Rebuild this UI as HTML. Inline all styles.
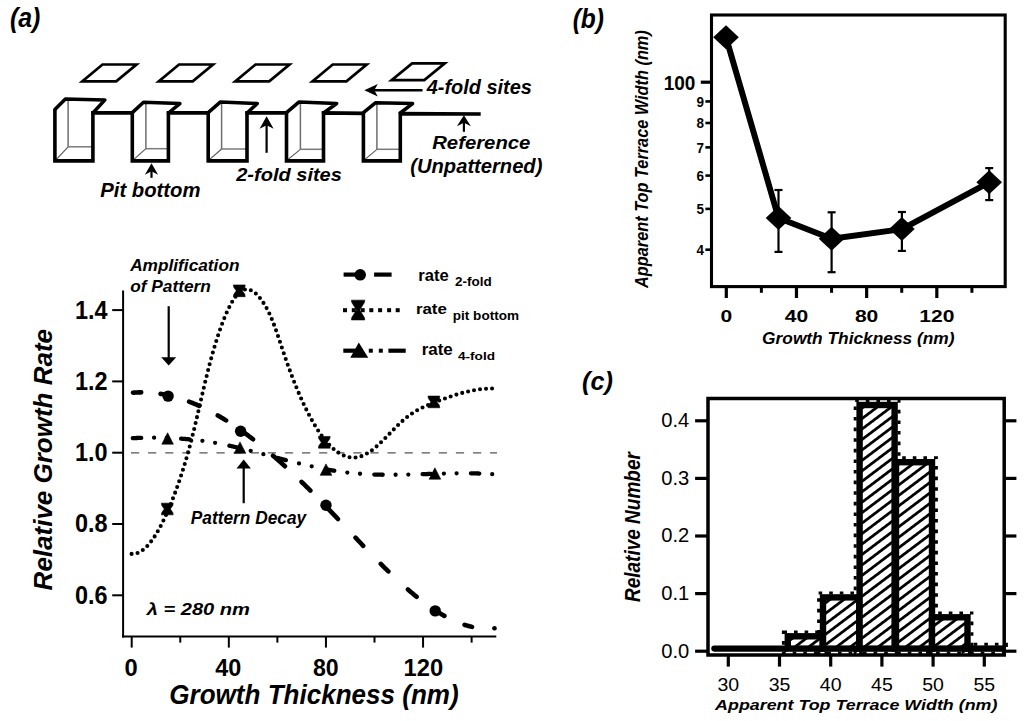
<!DOCTYPE html><html><head><meta charset="utf-8"><style>html,body{margin:0;padding:0;background:#fff;}svg{display:block;font-family:"Liberation Sans",sans-serif;}</style></head><body>
<svg width="1024" height="721" viewBox="0 0 1024 721">
<rect width="1024" height="721" fill="#fff"/>
<defs><pattern id="hatch" width="20" height="8.35" patternUnits="userSpaceOnUse" patternTransform="rotate(-37)"><rect x="0" y="0" width="20" height="2.75" fill="#000"/></pattern></defs>
<g id="schem">
<path d="M82.20,81.40 L116.20,81.40 L136.50,64.50 L102.50,64.50 Z" stroke="#000" stroke-width="2.7" fill="none" stroke-linejoin="miter"/>
<path d="M158.70,81.40 L192.70,81.40 L213.00,64.50 L179.00,64.50 Z" stroke="#000" stroke-width="2.7" fill="none" stroke-linejoin="miter"/>
<path d="M235.20,81.40 L269.20,81.40 L289.50,64.50 L255.50,64.50 Z" stroke="#000" stroke-width="2.7" fill="none" stroke-linejoin="miter"/>
<path d="M312.40,81.40 L346.40,81.40 L366.70,64.50 L332.70,64.50 Z" stroke="#000" stroke-width="2.7" fill="none" stroke-linejoin="miter"/>
<path d="M391.60,80.10 L424.30,80.10 L444.80,63.40 L412.10,63.40 Z" stroke="#000" stroke-width="2.7" fill="none" stroke-linejoin="miter"/>
<line x1="68.10" y1="99.90" x2="68.10" y2="146.80" stroke="#6e6e6e" stroke-width="1.5"/>
<line x1="68.10" y1="146.80" x2="92.90" y2="146.80" stroke="#7a7a7a" stroke-width="1.5"/>
<line x1="68.10" y1="146.80" x2="55.90" y2="159.90" stroke="#555" stroke-width="1.1"/>
<line x1="145.90" y1="103.30" x2="145.90" y2="148.70" stroke="#6e6e6e" stroke-width="1.5"/>
<line x1="145.90" y1="148.70" x2="168.40" y2="148.70" stroke="#7a7a7a" stroke-width="1.5"/>
<line x1="145.90" y1="148.70" x2="133.30" y2="159.90" stroke="#555" stroke-width="1.1"/>
<line x1="221.60" y1="102.90" x2="221.60" y2="149.00" stroke="#6e6e6e" stroke-width="1.5"/>
<line x1="221.60" y1="149.00" x2="247.00" y2="149.00" stroke="#7a7a7a" stroke-width="1.5"/>
<line x1="221.60" y1="149.00" x2="209.20" y2="159.90" stroke="#555" stroke-width="1.1"/>
<line x1="300.40" y1="102.90" x2="300.40" y2="149.30" stroke="#6e6e6e" stroke-width="1.5"/>
<line x1="300.40" y1="149.30" x2="323.50" y2="149.30" stroke="#7a7a7a" stroke-width="1.5"/>
<line x1="300.40" y1="149.30" x2="287.50" y2="159.90" stroke="#555" stroke-width="1.1"/>
<line x1="376.90" y1="103.80" x2="376.90" y2="149.30" stroke="#6e6e6e" stroke-width="1.5"/>
<line x1="376.90" y1="149.30" x2="400.30" y2="149.30" stroke="#7a7a7a" stroke-width="1.5"/>
<line x1="376.90" y1="149.30" x2="364.40" y2="159.90" stroke="#555" stroke-width="1.1"/>
<path d="M54.90,109.60 L54.90,160.90 L92.90,160.90 L92.90,112.90 L132.30,112.70 L132.30,160.90 L168.40,160.90 L168.40,112.90 L208.20,112.70 L208.20,160.90 L247.00,160.90 L247.00,112.90 L286.50,112.70 L286.50,160.90 L323.50,160.90 L323.50,112.90 L363.40,113.40 L363.40,160.90 L400.30,160.90 L400.30,113.60 L480.70,114.00" stroke="#000" stroke-width="3.6" fill="none" stroke-linejoin="miter" stroke-linecap="butt"/>
<path d="M54.90,109.60 L65.40,98.90 L104.90,99.90 L92.90,113.00" stroke="#000" stroke-width="3.5" fill="none" stroke-linejoin="round" stroke-linecap="round"/>
<path d="M132.30,112.60 L143.50,102.30 L179.90,103.60 L168.40,113.00" stroke="#000" stroke-width="3.5" fill="none" stroke-linejoin="round" stroke-linecap="round"/>
<path d="M208.20,112.60 L220.50,101.90 L257.30,103.50 L247.00,113.00" stroke="#000" stroke-width="3.5" fill="none" stroke-linejoin="round" stroke-linecap="round"/>
<path d="M286.50,112.60 L299.10,101.90 L336.70,103.50 L323.50,113.00" stroke="#000" stroke-width="3.5" fill="none" stroke-linejoin="round" stroke-linecap="round"/>
<path d="M363.40,112.60 L375.40,102.80 L412.60,103.60 L400.30,113.00" stroke="#000" stroke-width="3.5" fill="none" stroke-linejoin="round" stroke-linecap="round"/>
<line x1="151.50" y1="177.80" x2="151.50" y2="167.30" stroke="#000" stroke-width="2.2"/>
<path d="M151.50,163.30 L144.90,174.80 L151.50,171.30 L158.10,174.80 Z" stroke="#000" stroke-width="0" fill="#000"/>
<line x1="266.60" y1="152.80" x2="266.60" y2="120.20" stroke="#000" stroke-width="2.2"/>
<path d="M266.60,116.20 L259.60,128.70 L266.60,125.20 L273.60,128.70 Z" stroke="#000" stroke-width="0" fill="#000"/>
<line x1="463.90" y1="131.80" x2="463.90" y2="119.30" stroke="#000" stroke-width="2.2"/>
<path d="M463.90,115.30 L456.90,126.30 L463.90,122.80 L470.90,126.30 Z" stroke="#000" stroke-width="0" fill="#000"/>
<line x1="422.50" y1="90.20" x2="369.00" y2="90.20" stroke="#000" stroke-width="2.4"/>
<path d="M364.30,90.20 L377.80,83.90 L374.30,90.20 L377.80,96.50 Z" stroke="#000" stroke-width="0" fill="#000"/>
</g>
<text x="10.00" y="27.05" font-size="27.65" font-weight="bold" font-style="italic" textLength="30.40" lengthAdjust="spacingAndGlyphs" fill="#000">(a)</text>
<text x="426.74" y="94.30" font-size="19.31" font-weight="bold" font-style="italic" textLength="105.16" lengthAdjust="spacingAndGlyphs" fill="#000">4-fold sites</text>
<text x="432.20" y="149.20" font-size="18.21" font-weight="bold" font-style="italic" textLength="98.20" lengthAdjust="spacingAndGlyphs" fill="#000">Reference</text>
<text x="410.30" y="172.99" font-size="19.29" font-weight="bold" font-style="italic" textLength="132.10" lengthAdjust="spacingAndGlyphs" fill="#000">(Unpatterned)</text>
<text x="100.30" y="196.90" font-size="19.31" font-weight="bold" font-style="italic" textLength="100.21" lengthAdjust="spacingAndGlyphs" fill="#000">Pit bottom</text>
<text x="236.22" y="180.90" font-size="18.62" font-weight="bold" font-style="italic" textLength="105.68" lengthAdjust="spacingAndGlyphs" fill="#000">2-fold sites</text>
<line x1="123.10" y1="290.50" x2="123.10" y2="637.60" stroke="#000" stroke-width="2"/>
<line x1="122.10" y1="636.60" x2="496.30" y2="636.60" stroke="#000" stroke-width="2"/>
<line x1="112.20" y1="310.10" x2="123.10" y2="310.10" stroke="#000" stroke-width="2"/>
<line x1="112.20" y1="381.40" x2="123.10" y2="381.40" stroke="#000" stroke-width="2"/>
<line x1="112.20" y1="452.70" x2="123.10" y2="452.70" stroke="#000" stroke-width="2"/>
<line x1="112.20" y1="524.00" x2="123.10" y2="524.00" stroke="#000" stroke-width="2"/>
<line x1="112.20" y1="595.30" x2="123.10" y2="595.30" stroke="#000" stroke-width="2"/>
<line x1="131.70" y1="636.60" x2="131.70" y2="647.60" stroke="#000" stroke-width="2"/>
<line x1="228.82" y1="636.60" x2="228.82" y2="647.60" stroke="#000" stroke-width="2"/>
<line x1="325.94" y1="636.60" x2="325.94" y2="647.60" stroke="#000" stroke-width="2"/>
<line x1="423.06" y1="636.60" x2="423.06" y2="647.60" stroke="#000" stroke-width="2"/>
<line x1="180.26" y1="636.60" x2="180.26" y2="642.60" stroke="#000" stroke-width="2"/>
<line x1="277.38" y1="636.60" x2="277.38" y2="642.60" stroke="#000" stroke-width="2"/>
<line x1="374.50" y1="636.60" x2="374.50" y2="642.60" stroke="#000" stroke-width="2"/>
<line x1="471.62" y1="636.60" x2="471.62" y2="642.60" stroke="#000" stroke-width="2"/>
<line x1="131.00" y1="452.90" x2="497.00" y2="452.90" stroke="#555" stroke-width="1.2" stroke-dasharray="8.2 8.9"/>
<path d="M131.60,553.90 L132.32,553.94 L133.05,553.93 L133.77,553.88 L134.50,553.80 L135.22,553.67 L135.94,553.51 L136.67,553.30 L137.39,553.06 L138.12,552.78 L138.84,552.46 L139.56,552.10 L140.29,551.70 L141.01,551.27 L141.74,550.80 L142.46,550.29 L143.18,549.74 L143.91,549.16 L144.63,548.54 L145.36,547.89 L146.08,547.20 L146.80,546.47 L147.53,545.71 L148.25,544.91 L148.98,544.08 L149.70,543.21 L150.43,542.31 L151.15,541.37 L151.87,540.40 L152.60,539.40 L153.32,538.36 L154.05,537.29 L154.77,536.19 L155.49,535.05 L156.22,533.88 L156.94,532.68 L157.67,531.45 L158.39,530.18 L159.11,528.89 L159.84,527.56 L160.56,526.20 L161.29,524.81 L162.01,523.39 L162.73,521.94 L163.46,520.46 L164.18,518.94 L164.91,517.40 L165.63,515.83 L166.35,514.23 L167.08,512.60 L167.80,510.95 L168.53,509.26 L169.25,507.55 L169.97,505.81 L170.70,504.04 L171.42,502.24 L172.15,500.41 L172.87,498.56 L173.59,496.68 L174.32,494.78 L175.04,492.85 L175.77,490.89 L176.49,488.90 L177.21,486.88 L177.94,484.84 L178.66,482.76 L179.39,480.65 L180.11,478.50 L180.83,476.32 L181.56,474.11 L182.28,471.86 L183.01,469.57 L183.73,467.25 L184.46,464.89 L185.18,462.48 L185.90,460.04 L186.63,457.55 L187.35,455.02 L188.08,452.45 L188.80,449.83 L189.52,447.17 L190.25,444.46 L190.97,441.70 L191.70,438.90 L192.42,436.04 L193.14,433.14 L193.87,430.20 L194.59,427.22 L195.32,424.21 L196.04,421.16 L196.76,418.09 L197.49,415.00 L198.21,411.89 L198.94,408.76 L199.66,405.63 L200.38,402.49 L201.11,399.36 L201.83,396.22 L202.56,393.10 L203.28,390.00 L204.00,386.92 L204.73,383.86 L205.45,380.84 L206.18,377.85 L206.90,374.91 L207.62,372.01 L208.35,369.15 L209.07,366.35 L209.80,363.58 L210.52,360.87 L211.24,358.20 L211.97,355.57 L212.69,353.00 L213.42,350.47 L214.14,347.98 L214.86,345.55 L215.59,343.16 L216.31,340.81 L217.04,338.52 L217.76,336.27 L218.48,334.07 L219.21,331.92 L219.93,329.82 L220.66,327.77 L221.38,325.76 L222.11,323.81 L222.83,321.90 L223.55,320.04 L224.28,318.23 L225.00,316.47 L225.73,314.76 L226.45,313.10 L227.17,311.49 L227.90,309.93 L228.62,308.42 L229.35,306.97 L230.07,305.56 L230.79,304.21 L231.52,302.91 L232.24,301.66 L232.97,300.48 L233.69,299.34 L234.41,298.27 L235.14,297.25 L235.86,296.29 L236.59,295.39 L237.31,294.55 L238.03,293.77 L238.76,293.05 L239.48,292.40 L240.21,291.81 L240.93,291.28 L241.65,290.82 L242.38,290.42 L243.10,290.08 L243.83,289.81 L244.55,289.60 L245.27,289.45 L246.00,289.36 L246.72,289.33 L247.45,289.35 L248.17,289.44 L248.89,289.57 L249.62,289.77 L250.34,290.02 L251.07,290.32 L251.79,290.67 L252.51,291.08 L253.24,291.54 L253.96,292.04 L254.69,292.60 L255.41,293.20 L256.14,293.85 L256.86,294.55 L257.58,295.29 L258.31,296.07 L259.03,296.90 L259.76,297.77 L260.48,298.69 L261.20,299.64 L261.93,300.63 L262.65,301.67 L263.38,302.74 L264.10,303.86 L264.82,305.02 L265.55,306.23 L266.27,307.49 L267.00,308.81 L267.72,310.18 L268.44,311.60 L269.17,313.09 L269.89,314.65 L270.62,316.26 L271.34,317.95 L272.06,319.70 L272.79,321.52 L273.51,323.39 L274.24,325.32 L274.96,327.29 L275.68,329.31 L276.41,331.36 L277.13,333.45 L277.86,335.56 L278.58,337.70 L279.30,339.85 L280.03,342.02 L280.75,344.19 L281.48,346.37 L282.20,348.54 L282.92,350.71 L283.65,352.86 L284.37,355.00 L285.10,357.12 L285.82,359.21 L286.54,361.29 L287.27,363.34 L287.99,365.37 L288.72,367.38 L289.44,369.37 L290.17,371.33 L290.89,373.27 L291.61,375.20 L292.34,377.10 L293.06,378.97 L293.79,380.83 L294.51,382.67 L295.23,384.48 L295.96,386.27 L296.68,388.04 L297.41,389.79 L298.13,391.51 L298.85,393.22 L299.58,394.90 L300.30,396.56 L301.03,398.20 L301.75,399.81 L302.47,401.41 L303.20,402.98 L303.92,404.53 L304.65,406.06 L305.37,407.56 L306.09,409.05 L306.82,410.51 L307.54,411.95 L308.27,413.37 L308.99,414.76 L309.71,416.14 L310.44,417.49 L311.16,418.82 L311.89,420.12 L312.61,421.41 L313.33,422.67 L314.06,423.91 L314.78,425.13 L315.51,426.33 L316.23,427.50 L316.95,428.65 L317.68,429.78 L318.40,430.89 L319.13,431.97 L319.85,433.04 L320.57,434.08 L321.30,435.10 L322.02,436.09 L322.75,437.06 L323.47,438.01 L324.19,438.94 L324.92,439.85 L325.64,440.73 L326.37,441.59 L327.09,442.43 L327.82,443.25 L328.54,444.04 L329.26,444.81 L329.99,445.56 L330.71,446.29 L331.44,446.99 L332.16,447.67 L332.88,448.33 L333.61,448.97 L334.33,449.58 L335.06,450.17 L335.78,450.74 L336.50,451.28 L337.23,451.81 L337.95,452.31 L338.68,452.78 L339.40,453.24 L340.12,453.67 L340.85,454.08 L341.57,454.47 L342.30,454.83 L343.02,455.17 L343.74,455.49 L344.47,455.78 L345.19,456.06 L345.92,456.31 L346.64,456.53 L347.36,456.74 L348.09,456.92 L348.81,457.08 L349.54,457.21 L350.26,457.32 L350.98,457.41 L351.71,457.48 L352.43,457.52 L353.16,457.54 L353.88,457.54 L354.60,457.51 L355.33,457.46 L356.05,457.39 L356.78,457.30 L357.50,457.18 L358.22,457.04 L358.95,456.87 L359.67,456.69 L360.40,456.48 L361.12,456.24 L361.85,455.99 L362.57,455.71 L363.29,455.40 L364.02,455.08 L364.74,454.73 L365.47,454.36 L366.19,453.96 L366.91,453.55 L367.64,453.12 L368.36,452.66 L369.09,452.19 L369.81,451.70 L370.53,451.20 L371.26,450.67 L371.98,450.13 L372.71,449.58 L373.43,449.01 L374.15,448.42 L374.88,447.82 L375.60,447.21 L376.33,446.58 L377.05,445.95 L377.77,445.30 L378.50,444.64 L379.22,443.97 L379.95,443.29 L380.67,442.60 L381.39,441.91 L382.12,441.20 L382.84,440.49 L383.57,439.78 L384.29,439.06 L385.01,438.33 L385.74,437.60 L386.46,436.86 L387.19,436.13 L387.91,435.38 L388.63,434.64 L389.36,433.90 L390.08,433.15 L390.81,432.41 L391.53,431.67 L392.25,430.92 L392.98,430.18 L393.70,429.44 L394.43,428.71 L395.15,427.98 L395.88,427.25 L396.60,426.53 L397.32,425.81 L398.05,425.10 L398.77,424.40 L399.50,423.70 L400.22,423.02 L400.94,422.34 L401.67,421.67 L402.39,421.01 L403.12,420.36 L403.84,419.72 L404.56,419.10 L405.29,418.48 L406.01,417.88 L406.74,417.30 L407.46,416.73 L408.18,416.17 L408.91,415.62 L409.63,415.09 L410.36,414.57 L411.08,414.07 L411.80,413.58 L412.53,413.10 L413.25,412.63 L413.98,412.17 L414.70,411.72 L415.42,411.28 L416.15,410.86 L416.87,410.44 L417.60,410.03 L418.32,409.64 L419.04,409.25 L419.77,408.87 L420.49,408.49 L421.22,408.13 L421.94,407.77 L422.66,407.42 L423.39,407.08 L424.11,406.74 L424.84,406.41 L425.56,406.08 L426.28,405.76 L427.01,405.45 L427.73,405.14 L428.46,404.83 L429.18,404.53 L429.91,404.23 L430.63,403.93 L431.35,403.64 L432.08,403.35 L432.80,403.06 L433.53,402.78 L434.25,402.49 L434.97,402.21 L435.70,401.92 L436.42,401.64 L437.15,401.36 L437.87,401.08 L438.59,400.81 L439.32,400.53 L440.04,400.26 L440.77,399.98 L441.49,399.71 L442.21,399.44 L442.94,399.18 L443.66,398.91 L444.39,398.65 L445.11,398.38 L445.83,398.12 L446.56,397.86 L447.28,397.61 L448.01,397.36 L448.73,397.10 L449.45,396.85 L450.18,396.61 L450.90,396.36 L451.63,396.12 L452.35,395.88 L453.07,395.65 L453.80,395.41 L454.52,395.18 L455.25,394.95 L455.97,394.73 L456.69,394.50 L457.42,394.28 L458.14,394.07 L458.87,393.85 L459.59,393.64 L460.31,393.44 L461.04,393.23 L461.76,393.03 L462.49,392.84 L463.21,392.64 L463.93,392.45 L464.66,392.27 L465.38,392.09 L466.11,391.91 L466.83,391.73 L467.56,391.56 L468.28,391.40 L469.00,391.23 L469.73,391.07 L470.45,390.92 L471.18,390.77 L471.90,390.62 L472.62,390.48 L473.35,390.34 L474.07,390.21 L474.80,390.08 L475.52,389.96 L476.24,389.84 L476.97,389.72 L477.69,389.62 L478.42,389.51 L479.14,389.41 L479.86,389.32 L480.59,389.23 L481.31,389.14 L482.04,389.06 L482.76,388.99 L483.48,388.92 L484.21,388.85 L484.93,388.80 L485.66,388.74 L486.38,388.69 L487.10,388.65 L487.83,388.62 L488.55,388.59 L489.28,388.56 L490.00,388.54 L490.72,388.53 L491.45,388.52 L492.17,388.52 L492.90,388.53 L493.50,388.54" fill="none" stroke="#000" stroke-width="4.1" stroke-linecap="round" stroke-dasharray="0 6.05"/>
<path d="M133.00,392.69 L133.72,392.64 L134.45,392.59 L135.17,392.54 L135.89,392.50 L136.62,392.46 L137.34,392.43 L138.06,392.40 L138.79,392.38 L139.51,392.36 L140.23,392.35 L140.96,392.34 L141.68,392.34 L142.40,392.34 L143.13,392.35 L143.85,392.36 L144.57,392.37 L145.30,392.39 L146.02,392.42 L146.74,392.44 L147.46,392.48 L148.19,392.52 L148.91,392.56 L149.63,392.61 L150.36,392.66 L151.08,392.71 L151.80,392.77 L152.53,392.84 L153.25,392.91 L153.97,392.98 L154.70,393.06 L155.42,393.14 L156.14,393.23 L156.87,393.32 L157.59,393.42 L158.31,393.52 L159.04,393.62 L159.76,393.73 L160.48,393.85 L161.21,393.96 L161.93,394.09 L162.65,394.21 L163.38,394.34 L164.10,394.48 L164.82,394.62 L165.55,394.76 L166.27,394.91 L166.99,395.06 L167.72,395.22 L168.44,395.38 L169.16,395.54 L169.89,395.71 L170.61,395.88 L171.33,396.06 L172.06,396.24 L172.78,396.42 L173.50,396.61 L174.22,396.81 L174.95,397.00 L175.67,397.20 L176.39,397.41 L177.12,397.62 L177.84,397.83 L178.56,398.05 L179.29,398.27 L180.01,398.50 L180.73,398.73 L181.46,398.96 L182.18,399.20 L182.90,399.44 L183.63,399.68 L184.35,399.93 L185.07,400.18 L185.80,400.44 L186.52,400.70 L187.24,400.96 L187.97,401.23 L188.69,401.50 L189.41,401.78 L190.14,402.06 L190.86,402.34 L191.58,402.63 L192.31,402.92 L193.03,403.21 L193.75,403.51 L194.48,403.81 L195.20,404.12 L195.92,404.43 L196.65,404.74 L197.37,405.06 L198.09,405.38 L198.81,405.70 L199.54,406.03 L200.26,406.36 L200.98,406.69 L201.71,407.03 L202.43,407.37 L203.15,407.72 L203.88,408.07 L204.60,408.42 L205.32,408.78 L206.05,409.13 L206.77,409.50 L207.49,409.86 L208.22,410.23 L208.94,410.61 L209.66,410.98 L210.39,411.36 L211.11,411.74 L211.83,412.13 L212.56,412.52 L213.28,412.91 L214.00,413.31 L214.73,413.71 L215.45,414.11 L216.17,414.52 L216.90,414.93 L217.62,415.34 L218.34,415.76 L219.07,416.18 L219.79,416.60 L220.51,417.03 L221.24,417.46 L221.96,417.89 L222.68,418.32 L223.41,418.76 L224.13,419.21 L224.85,419.65 L225.57,420.10 L226.30,420.55 L227.02,421.00 L227.74,421.46 L228.47,421.92 L229.19,422.38 L229.91,422.85 L230.64,423.32 L231.36,423.79 L232.08,424.27 L232.81,424.75 L233.53,425.23 L234.25,425.71 L234.98,426.20 L235.70,426.69 L236.42,427.18 L237.15,427.68 L237.87,428.18 L238.59,428.68 L239.32,429.19 L240.04,429.69 L240.76,430.20 L241.49,430.72 L242.21,431.23 L242.93,431.75 L243.66,432.27 L244.38,432.80 L245.10,433.33 L245.83,433.85 L246.55,434.39 L247.27,434.92 L248.00,435.46 L248.72,436.00 L249.44,436.55 L250.17,437.09 L250.89,437.64 L251.61,438.19 L252.33,438.75 L253.06,439.30 L253.78,439.86 L254.50,440.42 L255.23,440.99 L255.95,441.55 L256.67,442.12 L257.40,442.70 L258.12,443.27 L258.84,443.85 L259.57,444.43 L260.29,445.01 L261.01,445.59 L261.74,446.18 L262.46,446.77 L263.18,447.36 L263.91,447.95 L264.63,448.55 L265.35,449.15 L266.08,449.75 L266.80,450.35 L267.52,450.96 L268.25,451.57 L268.97,452.18 L269.69,452.79 L270.42,453.41 L271.14,454.02 L271.86,454.64 L272.59,455.27 L273.31,455.89 L274.03,456.52 L274.76,457.14 L275.48,457.78 L276.20,458.41 L276.92,459.04 L277.65,459.68 L278.37,460.32 L279.09,460.96 L279.82,461.60 L280.54,462.25 L281.26,462.90 L281.99,463.55 L282.71,464.20 L283.43,464.85 L284.16,465.51 L284.88,466.17 L285.60,466.83 L286.33,467.49 L287.05,468.15 L287.77,468.82 L288.50,469.49 L289.22,470.16 L289.94,470.83 L290.67,471.50 L291.39,472.18 L292.11,472.85 L292.84,473.53 L293.56,474.21 L294.28,474.90 L295.01,475.58 L295.73,476.27 L296.45,476.96 L297.18,477.65 L297.90,478.34 L298.62,479.03 L299.35,479.73 L300.07,480.43 L300.79,481.12 L301.52,481.82 L302.24,482.53 L302.96,483.23 L303.68,483.94 L304.41,484.64 L305.13,485.35 L305.85,486.06 L306.58,486.78 L307.30,487.49 L308.02,488.20 L308.75,488.92 L309.47,489.64 L310.19,490.36 L310.92,491.08 L311.64,491.80 L312.36,492.53 L313.09,493.25 L313.81,493.98 L314.53,494.71 L315.26,495.44 L315.98,496.17 L316.70,496.91 L317.43,497.64 L318.15,498.38 L318.87,499.11 L319.60,499.85 L320.32,500.59 L321.04,501.33 L321.77,502.08 L322.49,502.82 L323.21,503.57 L323.94,504.31 L324.66,505.06 L325.38,505.81 L326.11,506.56 L326.83,507.31 L327.55,508.07 L328.28,508.82 L329.00,509.57 L329.72,510.33 L330.44,511.09 L331.17,511.85 L331.89,512.61 L332.61,513.37 L333.34,514.13 L334.06,514.89 L334.78,515.65 L335.51,516.41 L336.23,517.18 L336.95,517.94 L337.68,518.71 L338.40,519.47 L339.12,520.24 L339.85,521.01 L340.57,521.77 L341.29,522.54 L342.02,523.31 L342.74,524.08 L343.46,524.85 L344.19,525.62 L344.91,526.39 L345.63,527.16 L346.36,527.93 L347.08,528.69 L347.80,529.46 L348.53,530.23 L349.25,531.00 L349.97,531.77 L350.70,532.54 L351.42,533.31 L352.14,534.08 L352.87,534.85 L353.59,535.62 L354.31,536.39 L355.04,537.15 L355.76,537.92 L356.48,538.69 L357.20,539.45 L357.93,540.22 L358.65,540.99 L359.37,541.75 L360.10,542.51 L360.82,543.28 L361.54,544.04 L362.27,544.80 L362.99,545.56 L363.71,546.32 L364.44,547.08 L365.16,547.84 L365.88,548.60 L366.61,549.35 L367.33,550.11 L368.05,550.86 L368.78,551.62 L369.50,552.37 L370.22,553.12 L370.95,553.87 L371.67,554.62 L372.39,555.36 L373.12,556.11 L373.84,556.85 L374.56,557.59 L375.29,558.33 L376.01,559.07 L376.73,559.81 L377.46,560.55 L378.18,561.28 L378.90,562.01 L379.63,562.74 L380.35,563.47 L381.07,564.20 L381.79,564.92 L382.52,565.65 L383.24,566.37 L383.96,567.09 L384.69,567.81 L385.41,568.52 L386.13,569.23 L386.86,569.94 L387.58,570.65 L388.30,571.36 L389.03,572.06 L389.75,572.76 L390.47,573.46 L391.20,574.16 L391.92,574.85 L392.64,575.55 L393.37,576.24 L394.09,576.92 L394.81,577.61 L395.54,578.29 L396.26,578.97 L396.98,579.64 L397.71,580.31 L398.43,580.98 L399.15,581.65 L399.88,582.32 L400.60,582.98 L401.32,583.64 L402.05,584.29 L402.77,584.94 L403.49,585.59 L404.22,586.24 L404.94,586.88 L405.66,587.52 L406.39,588.16 L407.11,588.79 L407.83,589.42 L408.55,590.05 L409.28,590.67 L410.00,591.29 L410.72,591.90 L411.45,592.51 L412.17,593.12 L412.89,593.73 L413.62,594.33 L414.34,594.93 L415.06,595.52 L415.79,596.11 L416.51,596.69 L417.23,597.28 L417.96,597.85 L418.68,598.43 L419.40,599.00 L420.13,599.56 L420.85,600.13 L421.57,600.68 L422.30,601.24 L423.02,601.79 L423.74,602.33 L424.47,602.87 L425.19,603.41 L425.91,603.94 L426.64,604.47 L427.36,604.99 L428.08,605.51 L428.81,606.02 L429.53,606.53 L430.25,607.03 L430.98,607.53 L431.70,608.03 L432.42,608.52 L433.15,609.00 L433.87,609.48 L434.59,609.96 L435.31,610.43 L436.04,610.89 L436.76,611.36 L437.48,611.81 L438.21,612.26 L438.93,612.71 L439.65,613.15 L440.38,613.58 L441.10,614.01 L441.82,614.44 L442.55,614.85 L443.27,615.27 L443.99,615.68 L444.72,616.08 L445.44,616.48 L446.16,616.87 L446.89,617.25 L447.61,617.63 L448.33,618.01 L449.06,618.38 L449.78,618.74 L450.50,619.10 L451.23,619.45 L451.95,619.79 L452.67,620.13 L453.40,620.47 L454.12,620.79 L454.84,621.12 L455.57,621.43 L456.29,621.74 L457.01,622.04 L457.74,622.34 L458.46,622.63 L459.18,622.92 L459.90,623.19 L460.63,623.47 L461.35,623.73 L462.07,623.99 L462.80,624.24 L463.52,624.49 L464.24,624.73 L464.97,624.96 L465.69,625.18 L466.41,625.40 L467.14,625.62 L467.86,625.82 L468.58,626.02 L469.31,626.21 L470.03,626.40 L470.75,626.58 L471.48,626.75 L472.20,626.91 L472.92,627.07 L473.65,627.22 L474.37,627.36 L475.09,627.49 L475.82,627.62 L476.54,627.74 L477.26,627.86 L477.99,627.96 L478.71,628.06 L479.43,628.15 L480.16,628.24 L480.88,628.31 L481.60,628.38 L482.33,628.44 L483.05,628.49 L483.77,628.54 L484.50,628.58 L485.22,628.61 L485.94,628.63 L486.66,628.64 L487.39,628.65 L488.11,628.65 L488.83,628.64 L489.56,628.62 L490.28,628.60 L491.00,628.56 L491.73,628.52 L492.45,628.47 L493.17,628.41 L493.90,628.35 L494.50,628.28" fill="none" stroke="#000" stroke-width="4.6" stroke-linecap="round" stroke-dasharray="8.210 19.456 8.341 21.342 11.010 20.804 9.625 20.026 12.856 25.926 15.857 22.868 12.372 23.883 15.705 25.763 11.109 25.287 10.597 26.673 11.311 21.983 11.781 22.126 7.744 22.488 0.500 10000.000"/>
<path d="M132.80,438.15 L133.52,438.12 L134.24,438.09 L134.96,438.07 L135.68,438.04 L136.40,438.01 L137.12,437.99 L137.84,437.96 L138.57,437.94 L139.29,437.92 L140.01,437.89 L140.73,437.87 L141.45,437.85 L142.17,437.84 L142.89,437.82 L143.61,437.80 L144.33,437.79 L145.05,437.77 L145.77,437.76 L146.49,437.75 L147.21,437.74 L147.93,437.73 L148.65,437.72 L149.37,437.72 L150.10,437.71 L150.82,437.71 L151.54,437.70 L152.26,437.70 L152.98,437.70 L153.70,437.70 L154.42,437.70 L155.14,437.70 L155.86,437.71 L156.58,437.71 L157.30,437.72 L158.02,437.73 L158.74,437.73 L159.46,437.74 L160.18,437.76 L160.90,437.77 L161.63,437.78 L162.35,437.80 L163.07,437.81 L163.79,437.83 L164.51,437.85 L165.23,437.87 L165.95,437.89 L166.67,437.92 L167.39,437.94 L168.11,437.96 L168.83,437.99 L169.55,438.02 L170.27,438.05 L170.99,438.08 L171.71,438.11 L172.44,438.15 L173.16,438.18 L173.88,438.22 L174.60,438.26 L175.32,438.29 L176.04,438.34 L176.76,438.38 L177.48,438.42 L178.20,438.47 L178.92,438.51 L179.64,438.56 L180.36,438.61 L181.08,438.66 L181.80,438.71 L182.52,438.77 L183.24,438.82 L183.97,438.88 L184.69,438.94 L185.41,438.99 L186.13,439.06 L186.85,439.12 L187.57,439.18 L188.29,439.25 L189.01,439.32 L189.73,439.38 L190.45,439.45 L191.17,439.53 L191.89,439.60 L192.61,439.67 L193.33,439.75 L194.05,439.83 L194.78,439.91 L195.50,439.99 L196.22,440.07 L196.94,440.16 L197.66,440.24 L198.38,440.33 L199.10,440.42 L199.82,440.51 L200.54,440.60 L201.26,440.70 L201.98,440.79 L202.70,440.89 L203.42,440.99 L204.14,441.09 L204.86,441.19 L205.58,441.30 L206.31,441.40 L207.03,441.51 L207.75,441.62 L208.47,441.73 L209.19,441.85 L209.91,441.96 L210.63,442.08 L211.35,442.19 L212.07,442.31 L212.79,442.44 L213.51,442.56 L214.23,442.68 L214.95,442.81 L215.67,442.94 L216.39,443.07 L217.11,443.20 L217.84,443.34 L218.56,443.47 L219.28,443.61 L220.00,443.75 L220.72,443.89 L221.44,444.03 L222.16,444.17 L222.88,444.32 L223.60,444.47 L224.32,444.62 L225.04,444.76 L225.76,444.92 L226.48,445.07 L227.20,445.22 L227.92,445.38 L228.65,445.53 L229.37,445.69 L230.09,445.85 L230.81,446.01 L231.53,446.17 L232.25,446.34 L232.97,446.50 L233.69,446.67 L234.41,446.83 L235.13,447.00 L235.85,447.17 L236.57,447.34 L237.29,447.51 L238.01,447.68 L238.73,447.86 L239.45,448.03 L240.18,448.21 L240.90,448.38 L241.62,448.56 L242.34,448.74 L243.06,448.91 L243.78,449.09 L244.50,449.27 L245.22,449.45 L245.94,449.63 L246.66,449.82 L247.38,450.00 L248.10,450.18 L248.82,450.37 L249.54,450.55 L250.26,450.74 L250.98,450.92 L251.71,451.11 L252.43,451.30 L253.15,451.48 L253.87,451.67 L254.59,451.86 L255.31,452.05 L256.03,452.24 L256.75,452.43 L257.47,452.62 L258.19,452.81 L258.91,453.00 L259.63,453.19 L260.35,453.38 L261.07,453.57 L261.79,453.76 L262.52,453.95 L263.24,454.15 L263.96,454.34 L264.68,454.53 L265.40,454.72 L266.12,454.91 L266.84,455.10 L267.56,455.30 L268.28,455.49 L269.00,455.68 L269.72,455.87 L270.44,456.06 L271.16,456.25 L271.88,456.45 L272.60,456.64 L273.32,456.83 L274.05,457.02 L274.77,457.21 L275.49,457.40 L276.21,457.59 L276.93,457.78 L277.65,457.97 L278.37,458.16 L279.09,458.35 L279.81,458.54 L280.53,458.73 L281.25,458.92 L281.97,459.11 L282.69,459.30 L283.41,459.48 L284.13,459.67 L284.86,459.86 L285.58,460.04 L286.30,460.23 L287.02,460.42 L287.74,460.60 L288.46,460.79 L289.18,460.97 L289.90,461.15 L290.62,461.34 L291.34,461.52 L292.06,461.70 L292.78,461.88 L293.50,462.06 L294.22,462.24 L294.94,462.42 L295.66,462.60 L296.39,462.78 L297.11,462.96 L297.83,463.13 L298.55,463.31 L299.27,463.48 L299.99,463.66 L300.71,463.83 L301.43,464.00 L302.15,464.18 L302.87,464.35 L303.59,464.52 L304.31,464.69 L305.03,464.85 L305.75,465.02 L306.47,465.19 L307.19,465.35 L307.92,465.52 L308.64,465.68 L309.36,465.85 L310.08,466.01 L310.80,466.17 L311.52,466.33 L312.24,466.49 L312.96,466.64 L313.68,466.80 L314.40,466.96 L315.12,467.11 L315.84,467.26 L316.56,467.41 L317.28,467.56 L318.00,467.71 L318.73,467.86 L319.45,468.01 L320.17,468.16 L320.89,468.30 L321.61,468.44 L322.33,468.58 L323.05,468.73 L323.77,468.86 L324.49,469.00 L325.21,469.14 L325.93,469.27 L326.65,469.41 L327.37,469.54 L328.09,469.67 L328.81,469.80 L329.53,469.93 L330.26,470.05 L330.98,470.18 L331.70,470.30 L332.42,470.42 L333.14,470.54 L333.86,470.66 L334.58,470.78 L335.30,470.90 L336.02,471.01 L336.74,471.12 L337.46,471.23 L338.18,471.34 L338.90,471.45 L339.62,471.55 L340.34,471.66 L341.07,471.76 L341.79,471.86 L342.51,471.96 L343.23,472.05 L343.95,472.15 L344.67,472.24 L345.39,472.33 L346.11,472.42 L346.83,472.51 L347.55,472.59 L348.27,472.68 L348.99,472.76 L349.71,472.84 L350.43,472.92 L351.15,472.99 L351.87,473.07 L352.60,473.14 L353.32,473.21 L354.04,473.28 L354.76,473.34 L355.48,473.41 L356.20,473.47 L356.92,473.53 L357.64,473.59 L358.36,473.65 L359.08,473.71 L359.80,473.76 L360.52,473.81 L361.24,473.87 L361.96,473.92 L362.68,473.96 L363.40,474.01 L364.13,474.06 L364.85,474.10 L365.57,474.14 L366.29,474.18 L367.01,474.22 L367.73,474.26 L368.45,474.29 L369.17,474.33 L369.89,474.36 L370.61,474.39 L371.33,474.43 L372.05,474.45 L372.77,474.48 L373.49,474.51 L374.21,474.53 L374.94,474.56 L375.66,474.58 L376.38,474.60 L377.10,474.62 L377.82,474.64 L378.54,474.66 L379.26,474.67 L379.98,474.69 L380.70,474.70 L381.42,474.72 L382.14,474.73 L382.86,474.74 L383.58,474.75 L384.30,474.76 L385.02,474.77 L385.74,474.77 L386.47,474.78 L387.19,474.78 L387.91,474.79 L388.63,474.79 L389.35,474.79 L390.07,474.79 L390.79,474.79 L391.51,474.79 L392.23,474.79 L392.95,474.79 L393.67,474.78 L394.39,474.78 L395.11,474.77 L395.83,474.77 L396.55,474.76 L397.27,474.75 L398.00,474.75 L398.72,474.74 L399.44,474.73 L400.16,474.72 L400.88,474.71 L401.60,474.70 L402.32,474.68 L403.04,474.67 L403.76,474.66 L404.48,474.64 L405.20,474.63 L405.92,474.62 L406.64,474.60 L407.36,474.58 L408.08,474.57 L408.81,474.55 L409.53,474.53 L410.25,474.52 L410.97,474.50 L411.69,474.48 L412.41,474.46 L413.13,474.44 L413.85,474.42 L414.57,474.40 L415.29,474.38 L416.01,474.36 L416.73,474.34 L417.45,474.32 L418.17,474.30 L418.89,474.28 L419.61,474.26 L420.34,474.23 L421.06,474.21 L421.78,474.19 L422.50,474.17 L423.22,474.15 L423.94,474.12 L424.66,474.10 L425.38,474.08 L426.10,474.06 L426.82,474.03 L427.54,474.01 L428.26,473.99 L428.98,473.97 L429.70,473.94 L430.42,473.92 L431.15,473.90 L431.87,473.88 L432.59,473.85 L433.31,473.83 L434.03,473.81 L434.75,473.79 L435.47,473.77 L436.19,473.75 L436.91,473.73 L437.63,473.70 L438.35,473.68 L439.07,473.66 L439.79,473.64 L440.51,473.62 L441.23,473.61 L441.95,473.59 L442.68,473.57 L443.40,473.55 L444.12,473.53 L444.84,473.51 L445.56,473.50 L446.28,473.48 L447.00,473.47 L447.72,473.45 L448.44,473.44 L449.16,473.42 L449.88,473.41 L450.60,473.39 L451.32,473.38 L452.04,473.37 L452.76,473.36 L453.48,473.35 L454.21,473.34 L454.93,473.33 L455.65,473.32 L456.37,473.31 L457.09,473.30 L457.81,473.30 L458.53,473.29 L459.25,473.29 L459.97,473.28 L460.69,473.28 L461.41,473.28 L462.13,473.27 L462.85,473.27 L463.57,473.27 L464.29,473.27 L465.02,473.28 L465.74,473.28 L466.46,473.28 L467.18,473.29 L467.90,473.29 L468.62,473.30 L469.34,473.31 L470.06,473.32 L470.78,473.33 L471.50,473.34 L472.22,473.35 L472.94,473.36 L473.66,473.38 L474.38,473.39 L475.10,473.41 L475.82,473.42 L476.55,473.44 L477.27,473.46 L477.99,473.49 L478.71,473.51 L479.43,473.53 L480.15,473.56 L480.87,473.58 L481.59,473.61 L482.31,473.64 L483.03,473.67 L483.75,473.70 L484.47,473.74 L485.19,473.77 L485.91,473.81 L486.63,473.84 L487.35,473.88 L488.08,473.92 L488.80,473.97 L489.52,474.01 L490.24,474.05 L490.96,474.10 L491.68,474.15 L492.40,474.20 L493.00,474.24" fill="none" stroke="#000" stroke-width="4.3" stroke-linecap="round" stroke-dasharray="8.400 12.907 0.000 12.702 0.000 14.320 8.400 13.016 0.000 12.855 0.000 14.585 8.400 13.515 0.000 13.132 0.000 14.796 8.400 13.582 0.000 13.038 0.000 14.596 8.400 13.155 0.000 12.759 0.000 14.321 8.400 12.903 0.000 12.702 0.000 14.306 8.400 12.909 0.000 12.702 0.000 14.300 8.400 12.920 0.000 10000.000"/>
<circle cx="168.1" cy="396.1" r="5.7" fill="#000"/>
<circle cx="240.6" cy="431.3" r="5.7" fill="#000"/>
<circle cx="326.0" cy="505.3" r="5.7" fill="#000"/>
<circle cx="435.2" cy="610.9" r="5.7" fill="#000"/>
<path d="M161.40,503.15 L173.20,503.15 L172.80,505.55 L170.30,509.00 L172.80,512.45 L173.20,514.85 L161.40,514.85 L161.80,512.45 L164.30,509.00 L161.80,505.55 Z" stroke="#000" stroke-width="0.6" fill="#000" stroke-linejoin="round"/>
<path d="M233.40,284.95 L245.20,284.95 L244.80,287.35 L242.30,290.80 L244.80,294.25 L245.20,296.65 L233.40,296.65 L233.80,294.25 L236.30,290.80 L233.80,287.35 Z" stroke="#000" stroke-width="0.6" fill="#000" stroke-linejoin="round"/>
<path d="M318.40,436.45 L330.20,436.45 L329.80,438.85 L327.30,442.30 L329.80,445.75 L330.20,448.15 L318.40,448.15 L318.80,445.75 L321.30,442.30 L318.80,438.85 Z" stroke="#000" stroke-width="0.6" fill="#000" stroke-linejoin="round"/>
<path d="M428.00,396.05 L439.80,396.05 L439.40,398.45 L436.90,401.90 L439.40,405.35 L439.80,407.75 L428.00,407.75 L428.40,405.35 L430.90,401.90 L428.40,398.45 Z" stroke="#000" stroke-width="0.6" fill="#000" stroke-linejoin="round"/>
<path d="M167.60,432.75 L173.40,444.15 L161.80,444.15 Z" stroke="#000" stroke-width="0.6" fill="#000"/>
<path d="M240.00,441.90 L245.80,453.30 L234.20,453.30 Z" stroke="#000" stroke-width="0.6" fill="#000"/>
<path d="M326.00,463.90 L331.80,475.30 L320.20,475.30 Z" stroke="#000" stroke-width="0.6" fill="#000"/>
<path d="M434.90,467.80 L440.70,479.20 L429.10,479.20 Z" stroke="#000" stroke-width="0.6" fill="#000"/>
<line x1="168.70" y1="306.20" x2="168.70" y2="358.00" stroke="#000" stroke-width="2.2"/>
<path d="M168.70,365.60 L161.20,357.20 L176.20,357.20 Z" stroke="#000" stroke-width="0" fill="#000"/>
<line x1="243.70" y1="503.20" x2="243.70" y2="466.00" stroke="#000" stroke-width="2.2"/>
<path d="M243.70,459.40 L236.50,468.60 L250.90,468.60 Z" stroke="#000" stroke-width="0" fill="#000"/>
<line x1="343.60" y1="274.60" x2="357.00" y2="274.60" stroke="#000" stroke-width="4.2"/>
<circle cx="360.2" cy="274.8" r="5.8" fill="#000"/>
<line x1="374.10" y1="274.60" x2="391.60" y2="274.60" stroke="#000" stroke-width="4.2"/>
<rect x="343" y="308.2" width="4" height="4" fill="#000"/>
<rect x="351.8" y="308.2" width="4" height="4" fill="#000"/>
<rect x="360.7" y="308.2" width="4" height="4" fill="#000"/>
<rect x="369.3" y="308.2" width="4" height="4" fill="#000"/>
<rect x="378.1" y="308.2" width="4" height="4" fill="#000"/>
<rect x="387.1" y="308.2" width="4" height="4" fill="#000"/>
<rect x="395.7" y="308.2" width="4" height="4" fill="#000"/>
<path d="M351.40,300.15 L364.80,300.15 L364.40,302.55 L359.70,310.05 L364.40,317.55 L364.80,319.95 L351.40,319.95 L351.80,317.55 L356.50,310.05 L351.80,302.55 Z" stroke="#000" stroke-width="0.6" fill="#000" stroke-linejoin="round"/>
<line x1="343.30" y1="350.70" x2="356.00" y2="350.70" stroke="#000" stroke-width="4.2"/>
<path d="M358.80,342.40 L368.30,357.70 L350.30,357.70 Z" stroke="#000" stroke-width="0" fill="#000"/>
<rect x="368.8" y="348.7" width="4" height="4" fill="#000"/>
<rect x="378.8" y="348.7" width="4" height="4" fill="#000"/>
<line x1="388.40" y1="350.70" x2="405.70" y2="350.70" stroke="#000" stroke-width="4.2"/>
<text x="418.30" y="280.80" font-size="16.72" font-weight="bold" textLength="30.46" lengthAdjust="spacingAndGlyphs" fill="#000">rate</text>
<text x="455.00" y="285.90" font-size="12.41" font-weight="bold" textLength="36.70" lengthAdjust="spacingAndGlyphs" fill="#000">2-fold</text>
<text x="415.90" y="313.75" font-size="15.26" font-weight="bold" textLength="31.01" lengthAdjust="spacingAndGlyphs" fill="#000">rate</text>
<text x="452.80" y="319.60" font-size="12.14" font-weight="bold" textLength="66.20" lengthAdjust="spacingAndGlyphs" fill="#000">pit bottom</text>
<text x="421.70" y="355.40" font-size="16.26" font-weight="bold" textLength="31.11" lengthAdjust="spacingAndGlyphs" fill="#000">rate</text>
<text x="458.00" y="360.00" font-size="11.31" font-weight="bold" textLength="37.00" lengthAdjust="spacingAndGlyphs" fill="#000">4-fold</text>
<text x="130.16" y="271.10" font-size="15.59" font-weight="bold" font-style="italic" textLength="109.33" lengthAdjust="spacingAndGlyphs" fill="#000">Amplification</text>
<text x="130.20" y="292.00" font-size="16.14" font-weight="bold" font-style="italic" textLength="80.60" lengthAdjust="spacingAndGlyphs" fill="#000">of Pattern</text>
<text x="190.80" y="524.40" font-size="18.60" font-weight="bold" font-style="italic" textLength="115.37" lengthAdjust="spacingAndGlyphs" fill="#000">Pattern Decay</text>
<text x="146.70" y="615.40" font-size="17.33" font-weight="bold" font-style="italic" textLength="103.30" lengthAdjust="spacingAndGlyphs" fill="#000">λ = 280 nm</text>
<text x="74.90" y="318.50" font-size="25.29" font-weight="bold" textLength="32.60" lengthAdjust="spacingAndGlyphs" fill="#000">1.4</text>
<text x="74.90" y="389.80" font-size="24.93" font-weight="bold" textLength="32.60" lengthAdjust="spacingAndGlyphs" fill="#000">1.2</text>
<text x="74.90" y="461.10" font-size="24.93" font-weight="bold" textLength="32.60" lengthAdjust="spacingAndGlyphs" fill="#000">1.0</text>
<text x="74.90" y="532.40" font-size="24.93" font-weight="bold" textLength="32.60" lengthAdjust="spacingAndGlyphs" fill="#000">0.8</text>
<text x="74.90" y="603.70" font-size="24.93" font-weight="bold" textLength="32.60" lengthAdjust="spacingAndGlyphs" fill="#000">0.6</text>
<text x="124.50" y="676.00" font-size="24.50" font-weight="bold" textLength="13.20" lengthAdjust="spacingAndGlyphs" fill="#000">0</text>
<text x="215.20" y="676.00" font-size="24.50" font-weight="bold" textLength="26.01" lengthAdjust="spacingAndGlyphs" fill="#000">40</text>
<text x="312.90" y="676.00" font-size="24.50" font-weight="bold" textLength="25.71" lengthAdjust="spacingAndGlyphs" fill="#000">80</text>
<text x="403.60" y="676.00" font-size="24.50" font-weight="bold" textLength="39.61" lengthAdjust="spacingAndGlyphs" fill="#000">120</text>
<text x="169.30" y="703.80" font-size="26.90" font-weight="bold" font-style="italic" textLength="289.31" lengthAdjust="spacingAndGlyphs" fill="#000">Growth Thickness (nm)</text>
<text x="-590.40" y="52.40" font-size="25.52" font-weight="bold" font-style="italic" textLength="261.40" lengthAdjust="spacingAndGlyphs" fill="#000" transform="rotate(-90)">Relative Growth Rate</text>
<text x="572.70" y="27.54" font-size="27.22" font-weight="bold" font-style="italic" textLength="31.30" lengthAdjust="spacingAndGlyphs" fill="#000">(b)</text>
<rect x="711.5" y="15.0" width="293.7" height="271.6" fill="none" stroke="#000" stroke-width="3.1"/>
<line x1="700.80" y1="82.20" x2="711.50" y2="82.20" stroke="#000" stroke-width="3.2"/>
<line x1="705.40" y1="101.46" x2="711.50" y2="101.46" stroke="#000" stroke-width="2.6"/>
<line x1="705.40" y1="122.99" x2="711.50" y2="122.99" stroke="#000" stroke-width="2.6"/>
<line x1="705.40" y1="147.40" x2="711.50" y2="147.40" stroke="#000" stroke-width="2.6"/>
<line x1="705.40" y1="175.58" x2="711.50" y2="175.58" stroke="#000" stroke-width="2.6"/>
<line x1="705.40" y1="208.90" x2="711.50" y2="208.90" stroke="#000" stroke-width="2.6"/>
<line x1="705.40" y1="249.69" x2="711.50" y2="249.69" stroke="#000" stroke-width="2.6"/>
<line x1="726.30" y1="286.60" x2="726.30" y2="298.00" stroke="#000" stroke-width="3.2"/>
<line x1="796.47" y1="286.60" x2="796.47" y2="298.00" stroke="#000" stroke-width="3.2"/>
<line x1="866.64" y1="286.60" x2="866.64" y2="298.00" stroke="#000" stroke-width="3.2"/>
<line x1="936.82" y1="286.60" x2="936.82" y2="298.00" stroke="#000" stroke-width="3.2"/>
<line x1="761.39" y1="286.60" x2="761.39" y2="292.80" stroke="#000" stroke-width="3.0"/>
<line x1="831.56" y1="286.60" x2="831.56" y2="292.80" stroke="#000" stroke-width="3.0"/>
<line x1="901.73" y1="286.60" x2="901.73" y2="292.80" stroke="#000" stroke-width="3.0"/>
<line x1="971.90" y1="286.60" x2="971.90" y2="292.80" stroke="#000" stroke-width="3.0"/>
<text x="663.75" y="89.60" font-size="20.34" font-weight="bold" textLength="31.66" lengthAdjust="spacingAndGlyphs" fill="#000">100</text>
<text x="696.40" y="106.56" font-size="13.90" font-weight="bold" textLength="7.50" lengthAdjust="spacingAndGlyphs" fill="#000">9</text>
<text x="696.40" y="128.09" font-size="13.90" font-weight="bold" textLength="7.50" lengthAdjust="spacingAndGlyphs" fill="#000">8</text>
<text x="696.40" y="152.50" font-size="14.10" font-weight="bold" textLength="7.50" lengthAdjust="spacingAndGlyphs" fill="#000">7</text>
<text x="696.40" y="180.68" font-size="13.90" font-weight="bold" textLength="7.50" lengthAdjust="spacingAndGlyphs" fill="#000">6</text>
<text x="696.40" y="214.00" font-size="14.10" font-weight="bold" textLength="7.50" lengthAdjust="spacingAndGlyphs" fill="#000">5</text>
<text x="696.40" y="254.79" font-size="14.10" font-weight="bold" textLength="7.50" lengthAdjust="spacingAndGlyphs" fill="#000">4</text>
<text x="720.44" y="322.10" font-size="17.34" font-weight="bold" textLength="11.72" lengthAdjust="spacingAndGlyphs" fill="#000">0</text>
<text x="784.75" y="322.10" font-size="17.34" font-weight="bold" textLength="23.45" lengthAdjust="spacingAndGlyphs" fill="#000">40</text>
<text x="854.92" y="322.10" font-size="17.34" font-weight="bold" textLength="23.45" lengthAdjust="spacingAndGlyphs" fill="#000">80</text>
<text x="919.24" y="322.10" font-size="17.34" font-weight="bold" textLength="35.17" lengthAdjust="spacingAndGlyphs" fill="#000">120</text>
<text x="762.10" y="344.20" font-size="15.86" font-weight="bold" font-style="italic" textLength="192.41" lengthAdjust="spacingAndGlyphs" fill="#000">Growth Thickness (nm)</text>
<text x="-287.96" y="647.50" font-size="18.07" font-weight="bold" font-style="italic" textLength="257.76" lengthAdjust="spacingAndGlyphs" fill="#000" transform="rotate(-90)">Apparent Top Terrace Width (nm)</text>
<line x1="778.50" y1="190.00" x2="778.50" y2="251.90" stroke="#000" stroke-width="2.2"/>
<line x1="774.50" y1="190.00" x2="782.50" y2="190.00" stroke="#000" stroke-width="2.2"/>
<line x1="774.50" y1="251.90" x2="782.50" y2="251.90" stroke="#000" stroke-width="2.2"/>
<line x1="831.60" y1="212.30" x2="831.60" y2="272.20" stroke="#000" stroke-width="2.2"/>
<line x1="827.60" y1="212.30" x2="835.60" y2="212.30" stroke="#000" stroke-width="2.2"/>
<line x1="827.60" y1="272.20" x2="835.60" y2="272.20" stroke="#000" stroke-width="2.2"/>
<line x1="901.90" y1="212.00" x2="901.90" y2="250.90" stroke="#000" stroke-width="2.2"/>
<line x1="897.90" y1="212.00" x2="905.90" y2="212.00" stroke="#000" stroke-width="2.2"/>
<line x1="897.90" y1="250.90" x2="905.90" y2="250.90" stroke="#000" stroke-width="2.2"/>
<line x1="989.20" y1="168.10" x2="989.20" y2="200.10" stroke="#000" stroke-width="2.2"/>
<line x1="985.20" y1="168.10" x2="993.20" y2="168.10" stroke="#000" stroke-width="2.2"/>
<line x1="985.20" y1="200.10" x2="993.20" y2="200.10" stroke="#000" stroke-width="2.2"/>
<path d="M726.00,37.30 L778.50,218.00 L831.60,238.80 L901.90,229.10 L989.20,182.30" stroke="#000" stroke-width="6.0" fill="none" stroke-linejoin="round"/>
<path d="M726.00,25.30 L738.80,37.30 L726.00,49.30 L713.20,37.30 Z" stroke="#000" stroke-width="0" fill="#000"/>
<path d="M778.50,206.00 L791.30,218.00 L778.50,230.00 L765.70,218.00 Z" stroke="#000" stroke-width="0" fill="#000"/>
<path d="M831.60,226.80 L844.40,238.80 L831.60,250.80 L818.80,238.80 Z" stroke="#000" stroke-width="0" fill="#000"/>
<path d="M901.90,217.10 L914.70,229.10 L901.90,241.10 L889.10,229.10 Z" stroke="#000" stroke-width="0" fill="#000"/>
<path d="M989.20,170.30 L1002.00,182.30 L989.20,194.30 L976.40,182.30 Z" stroke="#000" stroke-width="0" fill="#000"/>
<text x="582.10" y="389.78" font-size="26.05" font-weight="bold" font-style="italic" textLength="30.90" lengthAdjust="spacingAndGlyphs" fill="#000">(c)</text>
<rect x="783.40" y="631.90" width="43.60" height="21.10" fill="none" stroke="#000" stroke-width="3.0" stroke-dasharray="3.6 7.0"/>
<rect x="818.60" y="593.00" width="45.10" height="60.00" fill="none" stroke="#000" stroke-width="3.0" stroke-dasharray="3.6 7.0"/>
<rect x="855.20" y="400.60" width="43.80" height="252.40" fill="none" stroke="#000" stroke-width="3.0" stroke-dasharray="3.6 7.0"/>
<rect x="891.60" y="457.80" width="44.80" height="195.20" fill="none" stroke="#000" stroke-width="3.0" stroke-dasharray="3.6 7.0"/>
<rect x="927.60" y="612.90" width="44.30" height="40.10" fill="none" stroke="#000" stroke-width="3.0" stroke-dasharray="3.6 7.0"/>
<rect x="963.10" y="644.19" width="43.30" height="8.81" fill="none" stroke="#000" stroke-width="3.0" stroke-dasharray="3.6 7.0"/>
<line x1="714.30" y1="648.60" x2="786.00" y2="648.60" stroke="#000" stroke-width="6.1" stroke-linecap="round"/>
<rect x="787.80" y="636.30" width="34.80" height="12.30" fill="#fff"/>
<rect x="787.80" y="636.30" width="34.80" height="12.30" fill="url(#hatch)" stroke="#000" stroke-width="6.4"/>
<rect x="823.00" y="597.40" width="36.30" height="51.20" fill="#fff"/>
<rect x="823.00" y="597.40" width="36.30" height="51.20" fill="url(#hatch)" stroke="#000" stroke-width="6.4"/>
<rect x="859.60" y="405.00" width="35.00" height="243.60" fill="#fff"/>
<rect x="859.60" y="405.00" width="35.00" height="243.60" fill="url(#hatch)" stroke="#000" stroke-width="6.4"/>
<rect x="896.00" y="462.20" width="36.00" height="186.40" fill="#fff"/>
<rect x="896.00" y="462.20" width="36.00" height="186.40" fill="url(#hatch)" stroke="#000" stroke-width="6.4"/>
<rect x="932.00" y="617.30" width="35.50" height="31.30" fill="#fff"/>
<rect x="932.00" y="617.30" width="35.50" height="31.30" fill="url(#hatch)" stroke="#000" stroke-width="6.4"/>
<rect x="967.50" y="648.59" width="34.50" height="0.01" fill="#fff"/>
<rect x="967.50" y="648.59" width="34.50" height="0.01" fill="url(#hatch)" stroke="#000" stroke-width="6.4"/>
<path d="M708.0,398.4 L1004.2,398.4 L1004.2,655.1 L708.0,655.1 Z" fill="none" stroke="#000" stroke-width="3.5"/>
<line x1="695.10" y1="651.20" x2="708.00" y2="651.20" stroke="#000" stroke-width="3.2"/>
<line x1="1004.20" y1="651.20" x2="1016.40" y2="651.20" stroke="#000" stroke-width="3.2"/>
<line x1="695.10" y1="593.60" x2="708.00" y2="593.60" stroke="#000" stroke-width="3.2"/>
<line x1="1004.20" y1="593.60" x2="1016.40" y2="593.60" stroke="#000" stroke-width="3.2"/>
<line x1="695.10" y1="536.00" x2="708.00" y2="536.00" stroke="#000" stroke-width="3.2"/>
<line x1="1004.20" y1="536.00" x2="1016.40" y2="536.00" stroke="#000" stroke-width="3.2"/>
<line x1="695.10" y1="478.40" x2="708.00" y2="478.40" stroke="#000" stroke-width="3.2"/>
<line x1="1004.20" y1="478.40" x2="1016.40" y2="478.40" stroke="#000" stroke-width="3.2"/>
<line x1="695.10" y1="420.80" x2="708.00" y2="420.80" stroke="#000" stroke-width="3.2"/>
<line x1="1004.20" y1="420.80" x2="1016.40" y2="420.80" stroke="#000" stroke-width="3.2"/>
<line x1="728.30" y1="655.10" x2="728.30" y2="666.60" stroke="#000" stroke-width="3.2"/>
<line x1="779.50" y1="655.10" x2="779.50" y2="666.60" stroke="#000" stroke-width="3.2"/>
<line x1="830.70" y1="655.10" x2="830.70" y2="666.60" stroke="#000" stroke-width="3.2"/>
<line x1="881.90" y1="655.10" x2="881.90" y2="666.60" stroke="#000" stroke-width="3.2"/>
<line x1="933.10" y1="655.10" x2="933.10" y2="666.60" stroke="#000" stroke-width="3.2"/>
<line x1="984.30" y1="655.10" x2="984.30" y2="666.60" stroke="#000" stroke-width="3.2"/>
<text x="661.30" y="657.60" font-size="19.34"  textLength="28.00" lengthAdjust="spacingAndGlyphs" fill="#000">0.0</text>
<text x="661.30" y="600.00" font-size="19.34"  textLength="28.00" lengthAdjust="spacingAndGlyphs" fill="#000">0.1</text>
<text x="661.30" y="542.40" font-size="19.34"  textLength="28.00" lengthAdjust="spacingAndGlyphs" fill="#000">0.2</text>
<text x="661.30" y="484.80" font-size="19.34"  textLength="28.00" lengthAdjust="spacingAndGlyphs" fill="#000">0.3</text>
<text x="661.30" y="427.20" font-size="19.34"  textLength="28.00" lengthAdjust="spacingAndGlyphs" fill="#000">0.4</text>
<text x="717.45" y="690.50" font-size="18.91"  textLength="21.71" lengthAdjust="spacingAndGlyphs" fill="#000">30</text>
<text x="768.65" y="690.50" font-size="18.91"  textLength="21.71" lengthAdjust="spacingAndGlyphs" fill="#000">35</text>
<text x="819.85" y="690.50" font-size="18.91"  textLength="21.71" lengthAdjust="spacingAndGlyphs" fill="#000">40</text>
<text x="871.05" y="690.50" font-size="19.19"  textLength="21.71" lengthAdjust="spacingAndGlyphs" fill="#000">45</text>
<text x="922.25" y="690.50" font-size="18.91"  textLength="21.71" lengthAdjust="spacingAndGlyphs" fill="#000">50</text>
<text x="973.45" y="690.50" font-size="19.19"  textLength="21.71" lengthAdjust="spacingAndGlyphs" fill="#000">55</text>
<text x="715.08" y="710.10" font-size="15.31" font-weight="bold" font-style="italic" textLength="282.33" lengthAdjust="spacingAndGlyphs" fill="#000">Apparent Top Terrace Width (nm)</text>
<text x="-602.10" y="639.75" font-size="22.76" font-weight="bold" font-style="italic" textLength="149.99" lengthAdjust="spacingAndGlyphs" fill="#000" transform="rotate(-90)">Relative Number</text>
</svg></body></html>
